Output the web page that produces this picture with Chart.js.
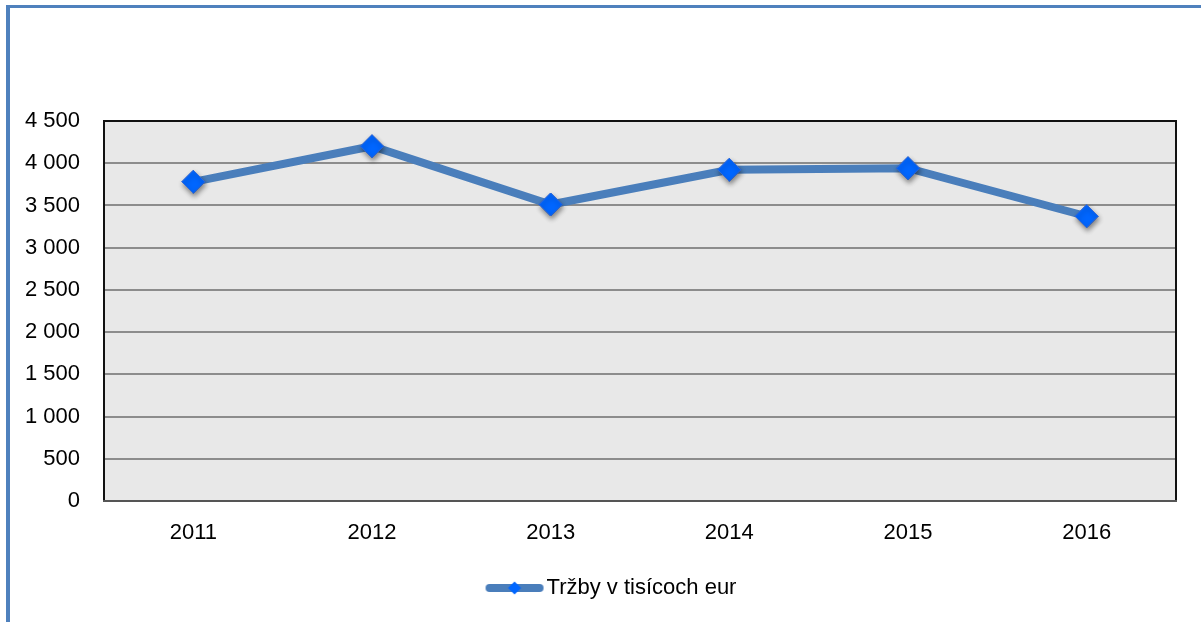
<!DOCTYPE html>
<html>
<head>
<meta charset="utf-8">
<script src="https://cdn.jsdelivr.net/npm/chart.js@4/dist/chart.umd.min.js"></script>
<style>
  html, body { margin: 0; padding: 0; background: #ffffff; }
  #wrap { position: relative; width: 1201px; height: 622px; overflow: hidden; }
  #frame { position: absolute; left: 6px; top: 5px; width: 1200px; height: 620px;
           border-left: 4px solid #4F81BD; border-top: 3px solid #4F81BD; box-sizing: border-box; }
  #c { position: absolute; left: 0; top: 0; }
</style>
</head>
<body>
<div id="wrap">
  <div id="frame"></div>
  <canvas id="c" width="1201" height="622"></canvas>
</div>
<script>
const categories = ['2011', '2012', '2013', '2014', '2015', '2016'];
const salesValues = [3780, 4201, 3511, 3922, 3941, 3372];
const seriesName = 'Tržby v tisícoch eur';
const yTickLabels = ['0', '500', '1 000', '1 500', '2 000', '2 500', '3 000', '3 500', '4 000', '4 500'];

const FONT = '"Liberation Sans", Arial, sans-serif';
const LINE_COLOR = '#4A7EBB';
const MARKER_COLOR = '#0066FF';

// legend sample: thick line with diamond (drawn into the right part of a wide image)
const legendImg = document.createElement('canvas');
legendImg.width = 116; legendImg.height = 24;
(function () {
  const g = legendImg.getContext('2d');
  g.strokeStyle = LINE_COLOR; g.lineWidth = 8; g.lineCap = 'round';
  g.beginPath(); g.moveTo(60, 12); g.lineTo(110, 12); g.stroke();
  g.fillStyle = MARKER_COLOR;
  g.beginPath(); g.moveTo(85, 5.5); g.lineTo(91.5, 12); g.lineTo(85, 18.5); g.lineTo(78.5, 12); g.closePath(); g.fill();
})();

const plotBg = {
  id: 'plotBg',
  beforeDraw(chart) {
    const { ctx, chartArea: a } = chart;
    ctx.save();
    ctx.fillStyle = '#E8E8E8';
    ctx.fillRect(a.left, a.top, a.right - a.left, a.bottom - a.top);
    ctx.restore();
  },
  beforeDatasetsDraw(chart) {
    const { ctx, chartArea: a } = chart;
    ctx.save();
    ctx.lineWidth = 2;
    ctx.strokeStyle = '#111111';
    ctx.beginPath();
    ctx.moveTo(a.left, a.bottom); ctx.lineTo(a.left, a.top); ctx.lineTo(a.right, a.top); ctx.lineTo(a.right, a.bottom);
    ctx.stroke();
    ctx.strokeStyle = '#555555';
    ctx.beginPath(); ctx.moveTo(a.left - 1, a.bottom); ctx.lineTo(a.right + 1, a.bottom); ctx.stroke();
    ctx.restore();
  },
  afterDatasetsDraw(chart) {
    const { ctx } = chart;
    const meta = chart.getDatasetMeta(0);
    ctx.save();
    ctx.shadowColor = 'rgba(0,0,0,0.45)';
    ctx.shadowBlur = 5;
    ctx.shadowOffsetX = 1;
    ctx.shadowOffsetY = 3;
    meta.data.forEach(p => p.draw(ctx, chart.chartArea));
    ctx.restore();
  }
};

new Chart(document.getElementById('c'), {
  type: 'line',
  data: {
    labels: categories,
    datasets: [{
      label: seriesName,
      data: salesValues,
      borderColor: LINE_COLOR,
      borderWidth: 8,
      backgroundColor: MARKER_COLOR,
      pointStyle: 'rectRot',
      pointRadius: 11.5,
      pointBackgroundColor: MARKER_COLOR,
      pointBorderColor: '#2F6ADB',
      pointBorderWidth: 1,
      tension: 0,
      fill: false
    }]
  },
  options: {
    responsive: false,
    animation: false,
    devicePixelRatio: 1,
    layout: { padding: { left: 0, right: 25, top: 121, bottom: 13 } },
    plugins: {
      tooltip: { enabled: false },
      legend: {
        position: 'bottom',
        labels: {
          usePointStyle: true,
          pointStyleWidth: 96,
          padding: 10,
          color: '#000000',
          font: { family: FONT, size: 22 },
          generateLabels(chart) {
            return [{ text: seriesName, pointStyle: legendImg, fillStyle: MARKER_COLOR, strokeStyle: LINE_COLOR, lineWidth: 0, hidden: false, datasetIndex: 0, fontColor: '#000000' }];
          }
        }
      }
    },
    scales: {
      x: {
        offset: true,
        grid: { display: false },
        border: { display: false },
        ticks: { color: '#000000', font: { family: FONT, size: 22 }, padding: 11, maxRotation: 0 },
        afterFit(scale) { scale.height = 66; }
      },
      y: {
        min: 0, max: 4500,
        grid: { color: '#8C8C8C', lineWidth: 2, drawTicks: false },
        border: { display: false },
        ticks: {
          stepSize: 500,
          color: '#000000',
          padding: 24,
          font: { family: FONT, size: 22 },
          callback(value, index) { return yTickLabels[index]; }
        },
        afterFit(scale) { scale.width = 104; }
      }
    }
  },
  plugins: [plotBg]
});
</script>
</body>
</html>
